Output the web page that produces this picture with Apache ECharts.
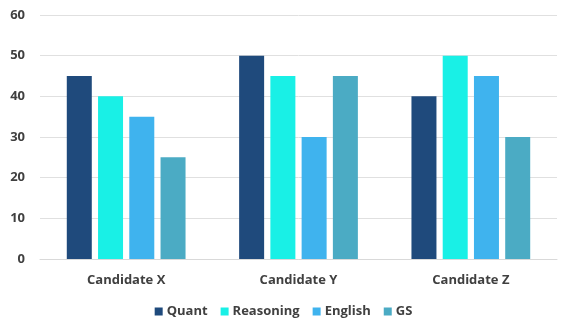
<!DOCTYPE html>
<html><head><meta charset="utf-8">
<script src="https://cdn.jsdelivr.net/npm/echarts@6/dist/echarts.min.js"></script>
<style>html,body{margin:0;padding:0;background:#fff}#c{width:567px;height:326px}</style>
</head><body><div id="c"></div>
<script>
const categories = ['Candidate X', 'Candidate Y', 'Candidate Z'];
const seriesNames = ['Quant', 'Reasoning', 'English', 'GS'];
const quant = [45, 50, 40];
const reasoning = [40, 45, 50];
const english = [35, 30, 45];
const gs = [25, 45, 30];
const values = [quant, reasoning, english, gs];
const colors = ['#1F4A7C', '#19F0E6', '#3FB3EE', '#4BABC4'];

const chart = echarts.init(document.getElementById('c'));
chart.setOption({
  animation: false,
  textStyle: { fontFamily: 'Open Sans, sans-serif' },
  grid: { left: 40, right: 10, top: 15, bottom: 67 },
  legend: {
    bottom: 3, itemWidth: 8, itemHeight: 8, itemGap: 13, icon: 'rect',
    textStyle: { fontSize: 13, fontWeight: 'bold', color: '#404040', padding: [0, 0, 0, -1] },
    data: seriesNames
  },
  xAxis: {
    type: 'category', data: categories,
    axisLine: { lineStyle: { color: '#d9d9d9', width: 1 } },
    axisTick: { show: false },
    axisLabel: { fontSize: 13, fontWeight: 'bold', color: '#404040', margin: 15 }
  },
  yAxis: {
    type: 'value', min: 0, max: 60, interval: 10,
    axisLine: { show: false }, axisTick: { show: false },
    splitLine: { lineStyle: { color: '#e0e0e0', width: 1 } },
    axisLabel: { fontSize: 13, fontWeight: 'bold', color: '#404040', margin: 15 }
  },
  series: seriesNames.map((n, i) => ({
    name: n, type: 'bar', data: values[i], barWidth: 25, barGap: '25%',
    itemStyle: { color: colors[i] }
  }))
});
</script></body></html>
